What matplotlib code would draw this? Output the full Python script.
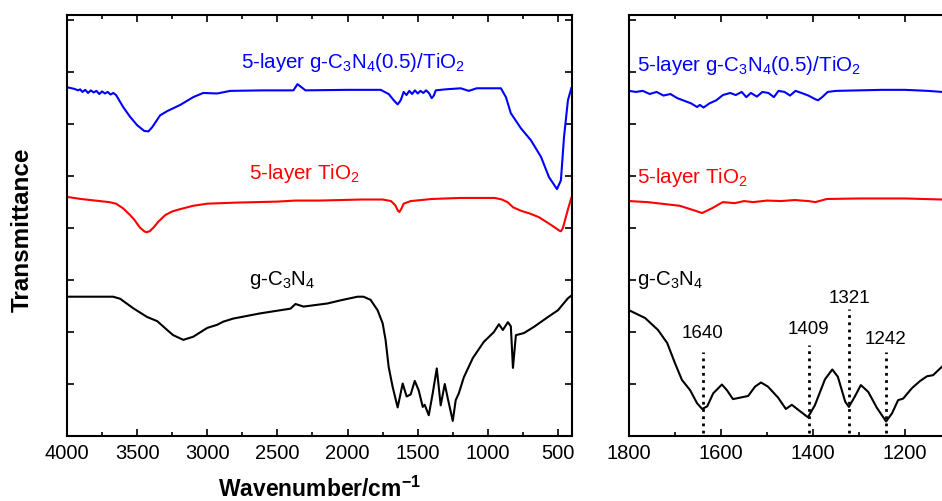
import matplotlib
matplotlib.use("Agg")
import matplotlib.pyplot as plt
from matplotlib.ticker import MultipleLocator, FixedLocator

plt.rcParams['font.family'] = ['Liberation Sans', 'DejaVu Sans']
plt.rcParams['mathtext.fontset'] = 'custom'
plt.rcParams['mathtext.rm'] = 'Liberation Sans'
plt.rcParams['mathtext.it'] = 'Liberation Sans:italic'
plt.rcParams['mathtext.bf'] = 'Liberation Sans:bold'
plt.rcParams['mathtext.default'] = 'regular'

# ---------------- data: full range panel ----------------
blue_w = [4000, 3950, 3920, 3907, 3890, 3870, 3850, 3830, 3810, 3790, 3770, 3750, 3730, 3710, 3690,
          3670, 3650, 3600, 3550, 3500, 3450, 3420, 3393, 3336, 3286, 3193, 3100, 3029, 2929, 2836,
          2600, 2386, 2357, 2300, 2000, 1764, 1707, 1671, 1643, 1621, 1600, 1580, 1560, 1540, 1520,
          1500, 1480, 1460, 1440, 1420, 1400, 1385, 1371, 1300, 1193, 1136, 1079, 907, 871, 836,
          764, 693, 621, 564, 507, 479, 457, 429, 405]
blue_t = [6.71, 6.68, 6.65, 6.67, 6.62, 6.66, 6.60, 6.65, 6.61, 6.64, 6.58, 6.63, 6.59, 6.62, 6.57,
          6.60, 6.56, 6.33, 6.14, 5.98, 5.87, 5.86, 5.94, 6.17, 6.25, 6.37, 6.52, 6.60, 6.59, 6.64,
          6.65, 6.65, 6.77, 6.65, 6.66, 6.66, 6.58, 6.46, 6.38, 6.46, 6.62, 6.56, 6.64, 6.58, 6.65,
          6.59, 6.64, 6.60, 6.65, 6.60, 6.50, 6.55, 6.65, 6.67, 6.69, 6.64, 6.69, 6.69, 6.52, 6.21,
          5.92, 5.69, 5.37, 4.98, 4.75, 4.92, 5.75, 6.46, 6.69]

red_w = [4000, 3900, 3800, 3700, 3650, 3600, 3550, 3520, 3480, 3450, 3436, 3410, 3380, 3350, 3300,
         3250, 3200, 3100, 3000, 2800, 2500, 2370, 2200, 1900, 1750, 1690, 1660, 1640, 1630, 1615,
         1600, 1550, 1400, 1200, 950, 900, 860, 820, 760, 700, 636, 560, 510, 490, 479, 465, 450,
         430, 405]
red_t = [4.60, 4.56, 4.53, 4.50, 4.47, 4.38, 4.25, 4.16, 4.01, 3.94, 3.92, 3.94, 4.02, 4.12, 4.25,
         4.32, 4.36, 4.43, 4.47, 4.49, 4.51, 4.53, 4.53, 4.55, 4.55, 4.52, 4.44, 4.33, 4.31, 4.38,
         4.47, 4.52, 4.56, 4.58, 4.58, 4.55, 4.50, 4.40, 4.33, 4.28, 4.21, 4.08, 3.99, 3.95, 3.94,
         4.00, 4.15, 4.35, 4.58]

black_w = [4000, 3800, 3671, 3621, 3529, 3429, 3357, 3286, 3243, 3171, 3100, 3000, 2929, 2886, 2814,
           2621, 2407, 2371, 2314, 2143, 2050, 1929, 1886, 1836, 1786, 1750, 1729, 1707, 1679, 1643,
           1624, 1607, 1579, 1550, 1521, 1493, 1464, 1450, 1421, 1393, 1364, 1336, 1307, 1286, 1250,
           1229, 1207, 1171, 1107, 1029, 957, 921, 893, 857, 836, 821, 800, 743, 671, 571, 500,
           429, 405]
black_t = [2.68, 2.68, 2.68, 2.64, 2.46, 2.29, 2.21, 2.04, 1.94, 1.85, 1.91, 2.08, 2.14, 2.20, 2.26,
           2.36, 2.45, 2.54, 2.49, 2.55, 2.61, 2.68, 2.68, 2.62, 2.42, 2.17, 1.85, 1.33, 0.95, 0.55,
           0.79, 1.01, 0.76, 0.80, 1.06, 0.88, 0.56, 0.60, 0.40, 0.82, 1.30, 0.59, 1.00, 0.73, 0.29,
           0.69, 0.82, 1.13, 1.50, 1.81, 2.00, 2.15, 2.04, 2.19, 2.11, 1.31, 1.94, 1.98, 2.10, 2.29,
           2.42, 2.65, 2.70]

# ---------------- data: zoomed panel ----------------
zb_w = [1800, 1785, 1770, 1755, 1740, 1725, 1710, 1695, 1680, 1665, 1652, 1646, 1638, 1625, 1610,
        1596, 1580, 1568, 1555, 1545, 1535, 1522, 1510, 1497, 1485, 1475, 1462, 1450, 1438, 1425,
        1410, 1395, 1389, 1380, 1368, 1350, 1300, 1250, 1200, 1150, 1120, 1000]
zb_t = [6.64, 6.62, 6.64, 6.58, 6.62, 6.55, 6.58, 6.50, 6.45, 6.40, 6.33, 6.37, 6.32, 6.40, 6.46,
        6.56, 6.60, 6.56, 6.62, 6.52, 6.60, 6.53, 6.62, 6.60, 6.52, 6.64, 6.62, 6.55, 6.64, 6.60,
        6.55, 6.48, 6.46, 6.52, 6.62, 6.64, 6.65, 6.66, 6.66, 6.64, 6.62, 6.62]

zr_w = [1800, 1760, 1720, 1690, 1665, 1641, 1620, 1596, 1570, 1550, 1530, 1500, 1470, 1440, 1410,
        1395, 1370, 1300, 1200, 1120, 1000]
zr_t = [4.52, 4.50, 4.46, 4.43, 4.36, 4.29, 4.38, 4.50, 4.48, 4.52, 4.50, 4.53, 4.52, 4.54, 4.52,
        4.50, 4.56, 4.57, 4.57, 4.55, 4.55]

zk_w = [1800, 1765, 1737, 1717, 1700, 1685, 1667, 1652, 1641, 1630, 1617, 1598, 1587, 1574, 1541,
        1526, 1513, 1498, 1476, 1459, 1446, 1433, 1411, 1396, 1374, 1358, 1346, 1330, 1322, 1309,
        1296, 1280, 1261, 1241, 1228, 1215, 1204, 1185, 1167, 1152, 1139, 1120, 1100, 1050]
zk_t = [2.42, 2.27, 2.04, 1.79, 1.40, 1.08, 0.88, 0.63, 0.52, 0.57, 0.82, 0.99, 0.88, 0.71, 0.77,
        0.95, 1.03, 0.95, 0.74, 0.52, 0.60, 0.51, 0.36, 0.59, 1.09, 1.28, 1.14, 0.66, 0.56, 0.76,
        0.98, 0.85, 0.54, 0.28, 0.44, 0.69, 0.72, 0.92, 1.06, 1.15, 1.17, 1.33, 1.50, 1.75]

peak_pos = [1640, 1409, 1321, 1242]
peak_labels = ['1640', '1409', '1321', '1242']
peak_line_top = [1.62, 1.75, 2.45, 1.62]
peak_label_y = [1.98, 2.04, 2.65, 1.85]

lbl_blue = '5-layer g-C$_3$N$_4$(0.5)/TiO$_2$'
lbl_red = '5-layer TiO$_2$'
lbl_black = 'g-C$_3$N$_4$'

fig = plt.figure(figsize=(9.42, 5.01), dpi=100)
ax1 = fig.add_axes([67/942, 65/501, (572-67)/942, (436-15)/501])
ax2 = fig.add_axes([629/942, 65/501, 368/942, (436-15)/501])

lw = 1.5
for ax in (ax1, ax2):
    for s in ax.spines.values():
        s.set_linewidth(1.5)
    ax.set_ylim(0, 8.1)
    ax.yaxis.set_major_locator(MultipleLocator(1))
    ax.tick_params(which='both', direction='in', top=True, right=True,
                   labelleft=False, labelsize=14.5, width=1.2, pad=6)
    ax.tick_params(which='major', length=5)
    ax.tick_params(which='minor', length=3)

ax1.plot(blue_w, blue_t, color='#0000ff', lw=lw)
ax1.plot(red_w, red_t, color='#ff0000', lw=lw)
ax1.plot(black_w, black_t, color='black', lw=lw)
ax1.set_xlim(4000, 400)
ax1.xaxis.set_major_locator(MultipleLocator(500))
ax1.xaxis.set_minor_locator(MultipleLocator(250))
ax1.text(1964, 7.19, lbl_blue, color='#0000ff', fontsize=14.8, ha='center', va='center')
ax1.text(2307, 5.06, lbl_red, color='#ff0000', fontsize=14.8, ha='center', va='center')
ax1.text(2464, 3.0, lbl_black, color='black', fontsize=14.8, ha='center', va='center')

fig.text(320/942, (501-489)/501, 'Wavenumber/cm$^{-1}$', fontsize=16.5, fontweight='bold',
         ha='center', va='center')
fig.text(22/942, (501-230)/501, 'Transmittance', fontsize=17.5, fontweight='bold',
         ha='center', va='center', rotation=90)

ax2.plot(zb_w, zb_t, color='#0000ff', lw=lw)
ax2.plot(zr_w, zr_t, color='#ff0000', lw=lw)
ax2.plot(zk_w, zk_t, color='black', lw=lw)
ax2.set_xlim(1800, 1000)
ax2.xaxis.set_major_locator(FixedLocator([1800, 1600, 1400, 1200]))
ax2.xaxis.set_minor_locator(FixedLocator([1700, 1500, 1300, 1100]))
ax2.text(1783, 7.13, lbl_blue, color='#0000ff', fontsize=14.8, ha='left', va='center')
ax2.text(1783, 4.98, lbl_red, color='#ff0000', fontsize=14.8, ha='left', va='center')
ax2.text(1783, 3.0, lbl_black, color='black', fontsize=14.8, ha='left', va='center')
for p, lab, top, ly in zip(peak_pos, peak_labels, peak_line_top, peak_label_y):
    ax2.plot([p, p], [0.05, top], color='black', lw=2, linestyle=(0, (1, 1.6)))
    ax2.text(p, ly, lab, fontsize=13.5, ha='center', va='center')

fig.savefig('out.png', dpi=100)
